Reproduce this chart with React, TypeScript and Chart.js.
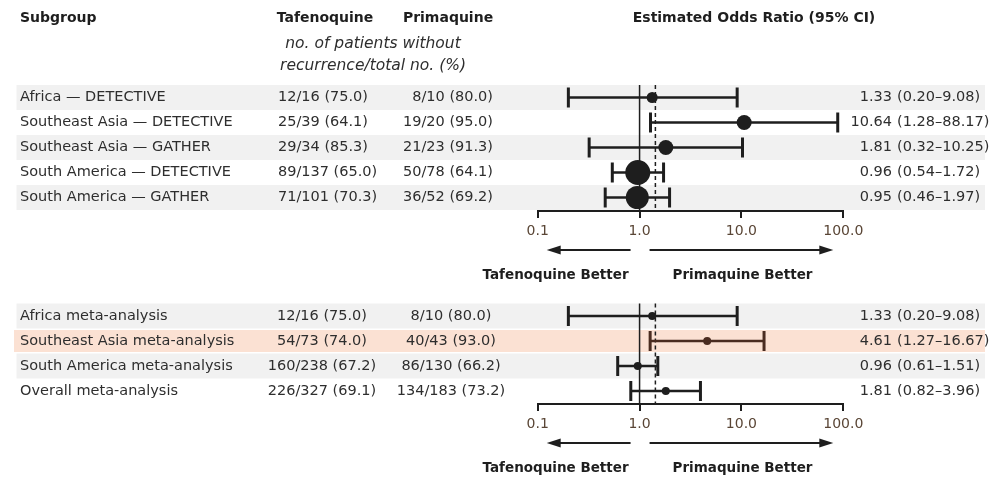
import { useEffect, useRef } from 'react';
import { Chart, registerables } from 'chart.js';

Chart.register(...registerables);

// ---------- data ----------
const topSubgroups = [
  'Africa — DETECTIVE',
  'Southeast Asia — DETECTIVE',
  'Southeast Asia — GATHER',
  'South America — DETECTIVE',
  'South America — GATHER',
];
const topTafenoquine = ['12/16 (75.0)', '25/39 (64.1)', '29/34 (85.3)', '89/137 (65.0)', '71/101 (70.3)'];
const topPrimaquine = ['8/10 (80.0)', '19/20 (95.0)', '21/23 (91.3)', '50/78 (64.1)', '36/52 (69.2)'];
const topOR = [1.33, 10.64, 1.81, 0.96, 0.95];
const topLow = [0.2, 1.28, 0.32, 0.54, 0.46];
const topHigh = [9.08, 88.17, 10.25, 1.72, 1.97];
const topWeightRadius = [5.5, 7.5, 7.5, 12.5, 11.5];

const botSubgroups = [
  'Africa meta-analysis',
  'Southeast Asia meta-analysis',
  'South America meta-analysis',
  'Overall meta-analysis',
];
const botTafenoquine = ['12/16 (75.0)', '54/73 (74.0)', '160/238 (67.2)', '226/327 (69.1)'];
const botPrimaquine = ['8/10 (80.0)', '40/43 (93.0)', '86/130 (66.2)', '134/183 (73.2)'];
const botOR = [1.33, 4.61, 0.96, 1.81];
const botLow = [0.2, 1.27, 0.61, 0.82];
const botHigh = [9.08, 16.67, 1.51, 3.96];
const botWeightRadius = [4, 4, 4, 4];
const botHighlight = [false, true, false, false];

const tickValues = [0.1, 1, 10, 100];
const tickLabels = ['0.1', '1.0', '10.0', '100.0'];
const nullValue = 1;
const dashedValue = 1.43;

// ---------- style ----------
const FONT = '"DejaVu Sans", sans-serif';
const TEXT = '#2e2e2e';
const INK = '#1e1e1e';
const BROWN = '#4a2c20';
const GRAY_BAND = '#f1f1f1';
const ORANGE_BAND = '#fbe1d3';
const TICK_COLOR = '#5a4636';

type PanelCfg = {
  height: number;
  top: number;
  axisHeight: number;
  nRows: number;
  yMax: number;
  subgroups: string[];
  taf: string[];
  pri: string[];
  or: number[];
  lo: number[];
  hi: number[];
  radius: number[];
  highlight: boolean[];
  tafAlign: 'left' | 'center';
  tafX: number;
  priAlign: 'right' | 'center';
  priX: number;
  header: boolean;
};

function makeChart(canvas: HTMLCanvasElement, cfg: PanelCfg) {
  const rowBottom = cfg.top + (cfg.yMax + 0.5) * 25;
  const padBottom = cfg.height - rowBottom - cfg.axisHeight;
  const yMin = -0.5;

  const datasets: any[] = [];
  datasets.push({
    data: [{ x: nullValue, y: yMin }, { x: nullValue, y: cfg.yMax }],
    showLine: true,
    borderColor: INK,
    borderWidth: 1.5,
    pointRadius: 0,
    order: 5,
  });
  datasets.push({
    data: [{ x: dashedValue, y: yMin }, { x: dashedValue, y: cfg.yMax }],
    showLine: true,
    borderColor: INK,
    borderWidth: 1.5,
    borderDash: [4, 3],
    pointRadius: 0,
    order: 5,
  });
  for (let i = 0; i < cfg.nRows; i++) {
    const c = cfg.highlight[i] ? BROWN : INK;
    datasets.push({
      data: [{ x: cfg.lo[i], y: i }, { x: cfg.hi[i], y: i }],
      showLine: true,
      borderColor: c,
      borderWidth: 2.5,
      pointStyle: 'line',
      pointRotation: 90,
      pointRadius: 10,
      pointBorderWidth: 3,
      pointBorderColor: c,
      pointBackgroundColor: c,
      order: 2,
    });
  }
  datasets.push({
    data: cfg.or.map((v, i) => ({ x: v, y: i })),
    pointRadius: cfg.radius,
    pointBackgroundColor: cfg.highlight.map((h) => (h ? BROWN : INK)),
    pointBorderWidth: 0,
    showLine: false,
    order: 0,
  });

  const panelPlugin = {
    id: 'panelDecor',
    beforeDraw(chart: any) {
      const { ctx } = chart;
      const y = chart.scales.y;
      ctx.save();
      for (let i = 0; i < cfg.nRows; i++) {
        const y0 = y.getPixelForValue(i - 0.5);
        const y1 = y.getPixelForValue(i + 0.5);
        if (cfg.highlight[i]) {
          ctx.fillStyle = ORANGE_BAND;
          ctx.fillRect(14, y0 + 1.5, 985 - 14, y1 - y0 - 3);
        } else if (i % 2 === 0) {
          ctx.fillStyle = GRAY_BAND;
          ctx.fillRect(16.5, y0, 985 - 16.5, y1 - y0);
        }
      }
      ctx.restore();
    },
    afterDraw(chart: any) {
      const { ctx } = chart;
      const x = chart.scales.x;
      const y = chart.scales.y;
      ctx.save();
      ctx.textBaseline = 'middle';
      for (let i = 0; i < cfg.nRows; i++) {
        const yy = y.getPixelForValue(i);
        ctx.fillStyle = TEXT;
        ctx.font = `14.5px ${FONT}`;
        ctx.textAlign = 'left';
        ctx.fillText(cfg.subgroups[i], 20, yy);
        ctx.textAlign = cfg.tafAlign;
        ctx.fillText(cfg.taf[i], cfg.tafX, yy);
        ctx.textAlign = cfg.priAlign;
        ctx.fillText(cfg.pri[i], cfg.priX, yy);
        ctx.textAlign = 'right';
        ctx.fillText(cfg.or[i].toFixed(2), 892, yy);
        ctx.textAlign = 'left';
        ctx.fillText(`(${cfg.lo[i].toFixed(2)}–${cfg.hi[i].toFixed(2)})`, 897, yy);
      }
      const axisY = chart.chartArea.bottom;
      const ay = axisY + 39;
      const x1 = x.getPixelForValue(1);
      const xl = x.getPixelForValue(0.1);
      const xr = x.getPixelForValue(100);
      ctx.strokeStyle = INK;
      ctx.fillStyle = INK;
      ctx.lineWidth = 2;
      const arrow = (from: number, to: number) => {
        const dir = Math.sign(to - from);
        ctx.beginPath();
        ctx.moveTo(from, ay);
        ctx.lineTo(to - dir * 10, ay);
        ctx.stroke();
        ctx.beginPath();
        ctx.moveTo(to, ay);
        ctx.lineTo(to - dir * 14, ay - 4.5);
        ctx.lineTo(to - dir * 14, ay + 4.5);
        ctx.closePath();
        ctx.fill();
      };
      arrow(x1 - 9, xl + 9);
      arrow(x1 + 10, xr - 10);
      ctx.font = `bold 13.5px ${FONT}`;
      ctx.fillStyle = INK;
      ctx.textAlign = 'right';
      ctx.fillText('Tafenoquine Better', x1 - 11, axisY + 64);
      ctx.textAlign = 'left';
      ctx.fillText('Primaquine Better', x1 + 33, axisY + 64);
      if (cfg.header) {
        ctx.font = `bold 14px ${FONT}`;
        ctx.fillStyle = INK;
        ctx.textAlign = 'left';
        ctx.fillText('Subgroup', 20, 18);
        ctx.textAlign = 'center';
        ctx.fillText('Tafenoquine', 325, 18);
        ctx.fillText('Primaquine', 448, 18);
        ctx.fillText('Estimated Odds Ratio (95% CI)', 754, 18);
        ctx.font = `oblique 15.5px ${FONT}`;
        ctx.fillStyle = TEXT;
        ctx.fillText('no. of patients without', 373, 44);
        ctx.fillText('recurrence/total no. (%)', 373, 66);
      }
      ctx.restore();
    },
  };

  return new Chart(canvas, {
    type: 'scatter',
    data: { datasets },
    options: {
      responsive: false,
      animation: false,
      devicePixelRatio: 1,
      layout: {
        padding: { left: 537.7, right: 991 - 843.3, top: cfg.top, bottom: padBottom },
      },
      clip: false as any,
      plugins: { legend: { display: false }, tooltip: { enabled: false } },
      scales: {
        x: {
          type: 'logarithmic',
          position: 'bottom',
          min: 0.1,
          max: 100,
          afterBuildTicks: (scale: any) => {
            scale.ticks = tickValues.map((v) => ({ value: v }));
          },
          afterFit: (scale: any) => {
            scale.height = cfg.axisHeight;
          },
          border: { display: true, color: INK, width: 2 },
          grid: {
            display: true,
            drawOnChartArea: false,
            drawTicks: true,
            tickLength: 7,
            color: INK,
            lineWidth: 2,
          },
          ticks: {
            autoSkip: false,
            maxRotation: 0,
            padding: 5,
            color: TICK_COLOR,
            font: { family: FONT, size: 14 },
            callback: (_v: any, idx: number) => tickLabels[idx],
          },
        },
        y: {
          type: 'linear',
          display: false,
          reverse: true,
          min: yMin,
          max: cfg.yMax,
        },
      },
    },
    plugins: [panelPlugin],
  } as any);
}

export default function App() {
  const topRef = useRef<HTMLCanvasElement>(null);
  const botRef = useRef<HTMLCanvasElement>(null);

  useEffect(() => {
    document.body.style.margin = '0';
    const c1 = makeChart(topRef.current!, {
      height: 290,
      top: 85,
      axisHeight: 30,
      nRows: topSubgroups.length,
      yMax: 4.54,
      subgroups: topSubgroups,
      taf: topTafenoquine,
      pri: topPrimaquine,
      or: topOR,
      lo: topLow,
      hi: topHigh,
      radius: topWeightRadius,
      highlight: topSubgroups.map(() => false),
      tafAlign: 'left',
      tafX: 278,
      priAlign: 'right',
      priX: 493,
      header: true,
    });
    const c2 = makeChart(botRef.current!, {
      height: 189,
      top: 13.5,
      axisHeight: 30,
      nRows: botSubgroups.length,
      yMax: 3.52,
      subgroups: botSubgroups,
      taf: botTafenoquine,
      pri: botPrimaquine,
      or: botOR,
      lo: botLow,
      hi: botHigh,
      radius: botWeightRadius,
      highlight: botHighlight,
      tafAlign: 'center',
      tafX: 322,
      priAlign: 'center',
      priX: 451,
      header: false,
    });
    return () => {
      c1.destroy();
      c2.destroy();
    };
  }, []);

  return (
    <div style={{ width: 991, height: 479, position: 'relative', background: '#fff' }}>
      <canvas ref={topRef} width={991} height={290} style={{ display: 'block', position: 'absolute', left: 0, top: 0 }} />
      <canvas ref={botRef} width={991} height={189} style={{ display: 'block', position: 'absolute', left: 0, top: 290 }} />
    </div>
  );
}
